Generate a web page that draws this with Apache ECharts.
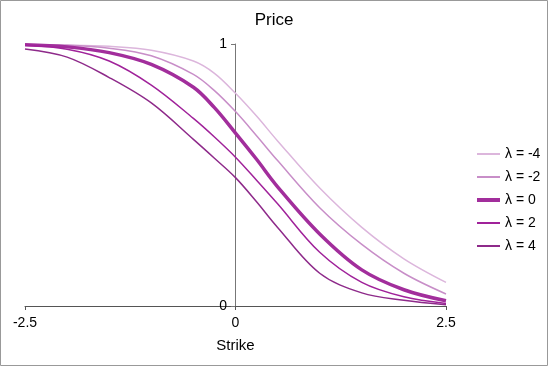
<!DOCTYPE html>
<html>
<head>
<meta charset="utf-8">
<script src="https://cdn.jsdelivr.net/npm/echarts@6/dist/echarts.min.js"></script>
<style>
  html, body { margin: 0; padding: 0; background: #fff; }
  #main { width: 548px; height: 366px; }
</style>
</head>
<body>
<div id="main"></div>
<script>
// strike grid
var strikes = [-2.5, -2, -1.5, -1, -0.5, -0.25, 0, 0.25, 0.5, 1, 1.5, 2, 2.5];
// prices, one array per lambda
var priceM4 = [0.997, 0.996, 0.991, 0.976, 0.935, 0.888, 0.812, 0.725, 0.630, 0.450, 0.300, 0.180, 0.090];
var priceM2 = [0.997, 0.995, 0.984, 0.955, 0.884, 0.822, 0.742, 0.650, 0.555, 0.375, 0.235, 0.125, 0.046];
var price0  = [0.997, 0.989, 0.967, 0.922, 0.835, 0.757, 0.660, 0.560, 0.455, 0.275, 0.138, 0.062, 0.020];
var priceP2 = [0.995, 0.980, 0.935, 0.843, 0.716, 0.645, 0.568, 0.480, 0.390, 0.205, 0.090, 0.035, 0.010];
var priceP4 = [0.981, 0.950, 0.872, 0.775, 0.636, 0.564, 0.490, 0.398, 0.300, 0.125, 0.050, 0.022, 0.005];
var names = ['λ = -4', 'λ = -2', 'λ = 0', 'λ = 2', 'λ = 4'];
var colors = ['#dcb6dc', '#c88ec8', '#a22e9c', '#a0229a', '#8e2a8a'];
var widths = [1.5, 1.5, 3.5, 1.5, 1.5];
var xTicks = [-2.5, 0, 2.5];

function pairs(ys) {
    return strikes.map(function (x, i) { return [x, ys[i]]; });
}

var allPrices = [priceM4, priceM2, price0, priceP2, priceP4];
var series = allPrices.map(function (ys, i) {
    return {
        name: names[i],
        type: 'line',
        smooth: 0.35,
        symbol: 'none',
        data: pairs(ys),
        lineStyle: { color: colors[i], width: widths[i] },
        itemStyle: { color: colors[i] }
    };
});
// legend entries with their own line widths
var legendData = names.map(function (n, i) {
    return { name: n, lineStyle: { color: colors[i], width: i === 2 ? 4 : 2 } };
});

var chart = echarts.init(document.getElementById('main'));
var font = 'Liberation Sans, Arial, sans-serif';
chart.setOption({
    animation: false,
    textStyle: { fontFamily: font },
    title: {
        text: 'Price',
        left: 'center',
        top: 7,
        textStyle: { fontSize: 17, fontWeight: 'normal', color: '#000', fontFamily: font }
    },
    graphic: [{
        type: 'rect',
        shape: { x: 0.5, y: 0.5, width: 547, height: 365 },
        style: { fill: 'none', stroke: '#999', lineWidth: 1 },
        silent: true
    }],
    grid: { left: 25, right: 102, top: 44, bottom: 60 },
    legend: {
        orient: 'vertical',
        left: 470,
        top: 142,
        itemWidth: 23,
        itemHeight: 14,
        itemGap: 9,
        data: legendData,
        itemStyle: { opacity: 0 },
        textStyle: { fontSize: 14, color: '#000', fontFamily: font }
    },
    xAxis: {
        type: 'value',
        min: xTicks[0],
        max: xTicks[2],
        interval: 2.5,
        name: 'Strike',
        nameLocation: 'middle',
        nameGap: 32,
        nameTextStyle: { fontSize: 15, color: '#000' },
        splitLine: { show: false },
        axisLine: { lineStyle: { color: '#555', width: 1 } },
        axisTick: { show: true, length: 4, lineStyle: { color: '#555' } },
        axisLabel: { fontSize: 14, color: '#000', margin: 10 }
    },
    yAxis: {
        type: 'value',
        min: 0,
        max: 1,
        interval: 1,
        offset: -210,
        splitLine: { show: false },
        axisLine: { show: true, onZero: false, lineStyle: { color: '#777', width: 1 } },
        axisTick: { show: true, length: 4, lineStyle: { color: '#777' } },
        axisLabel: { fontSize: 14, color: '#000', margin: 8 }
    },
    series: series
});
</script>
</body>
</html>
